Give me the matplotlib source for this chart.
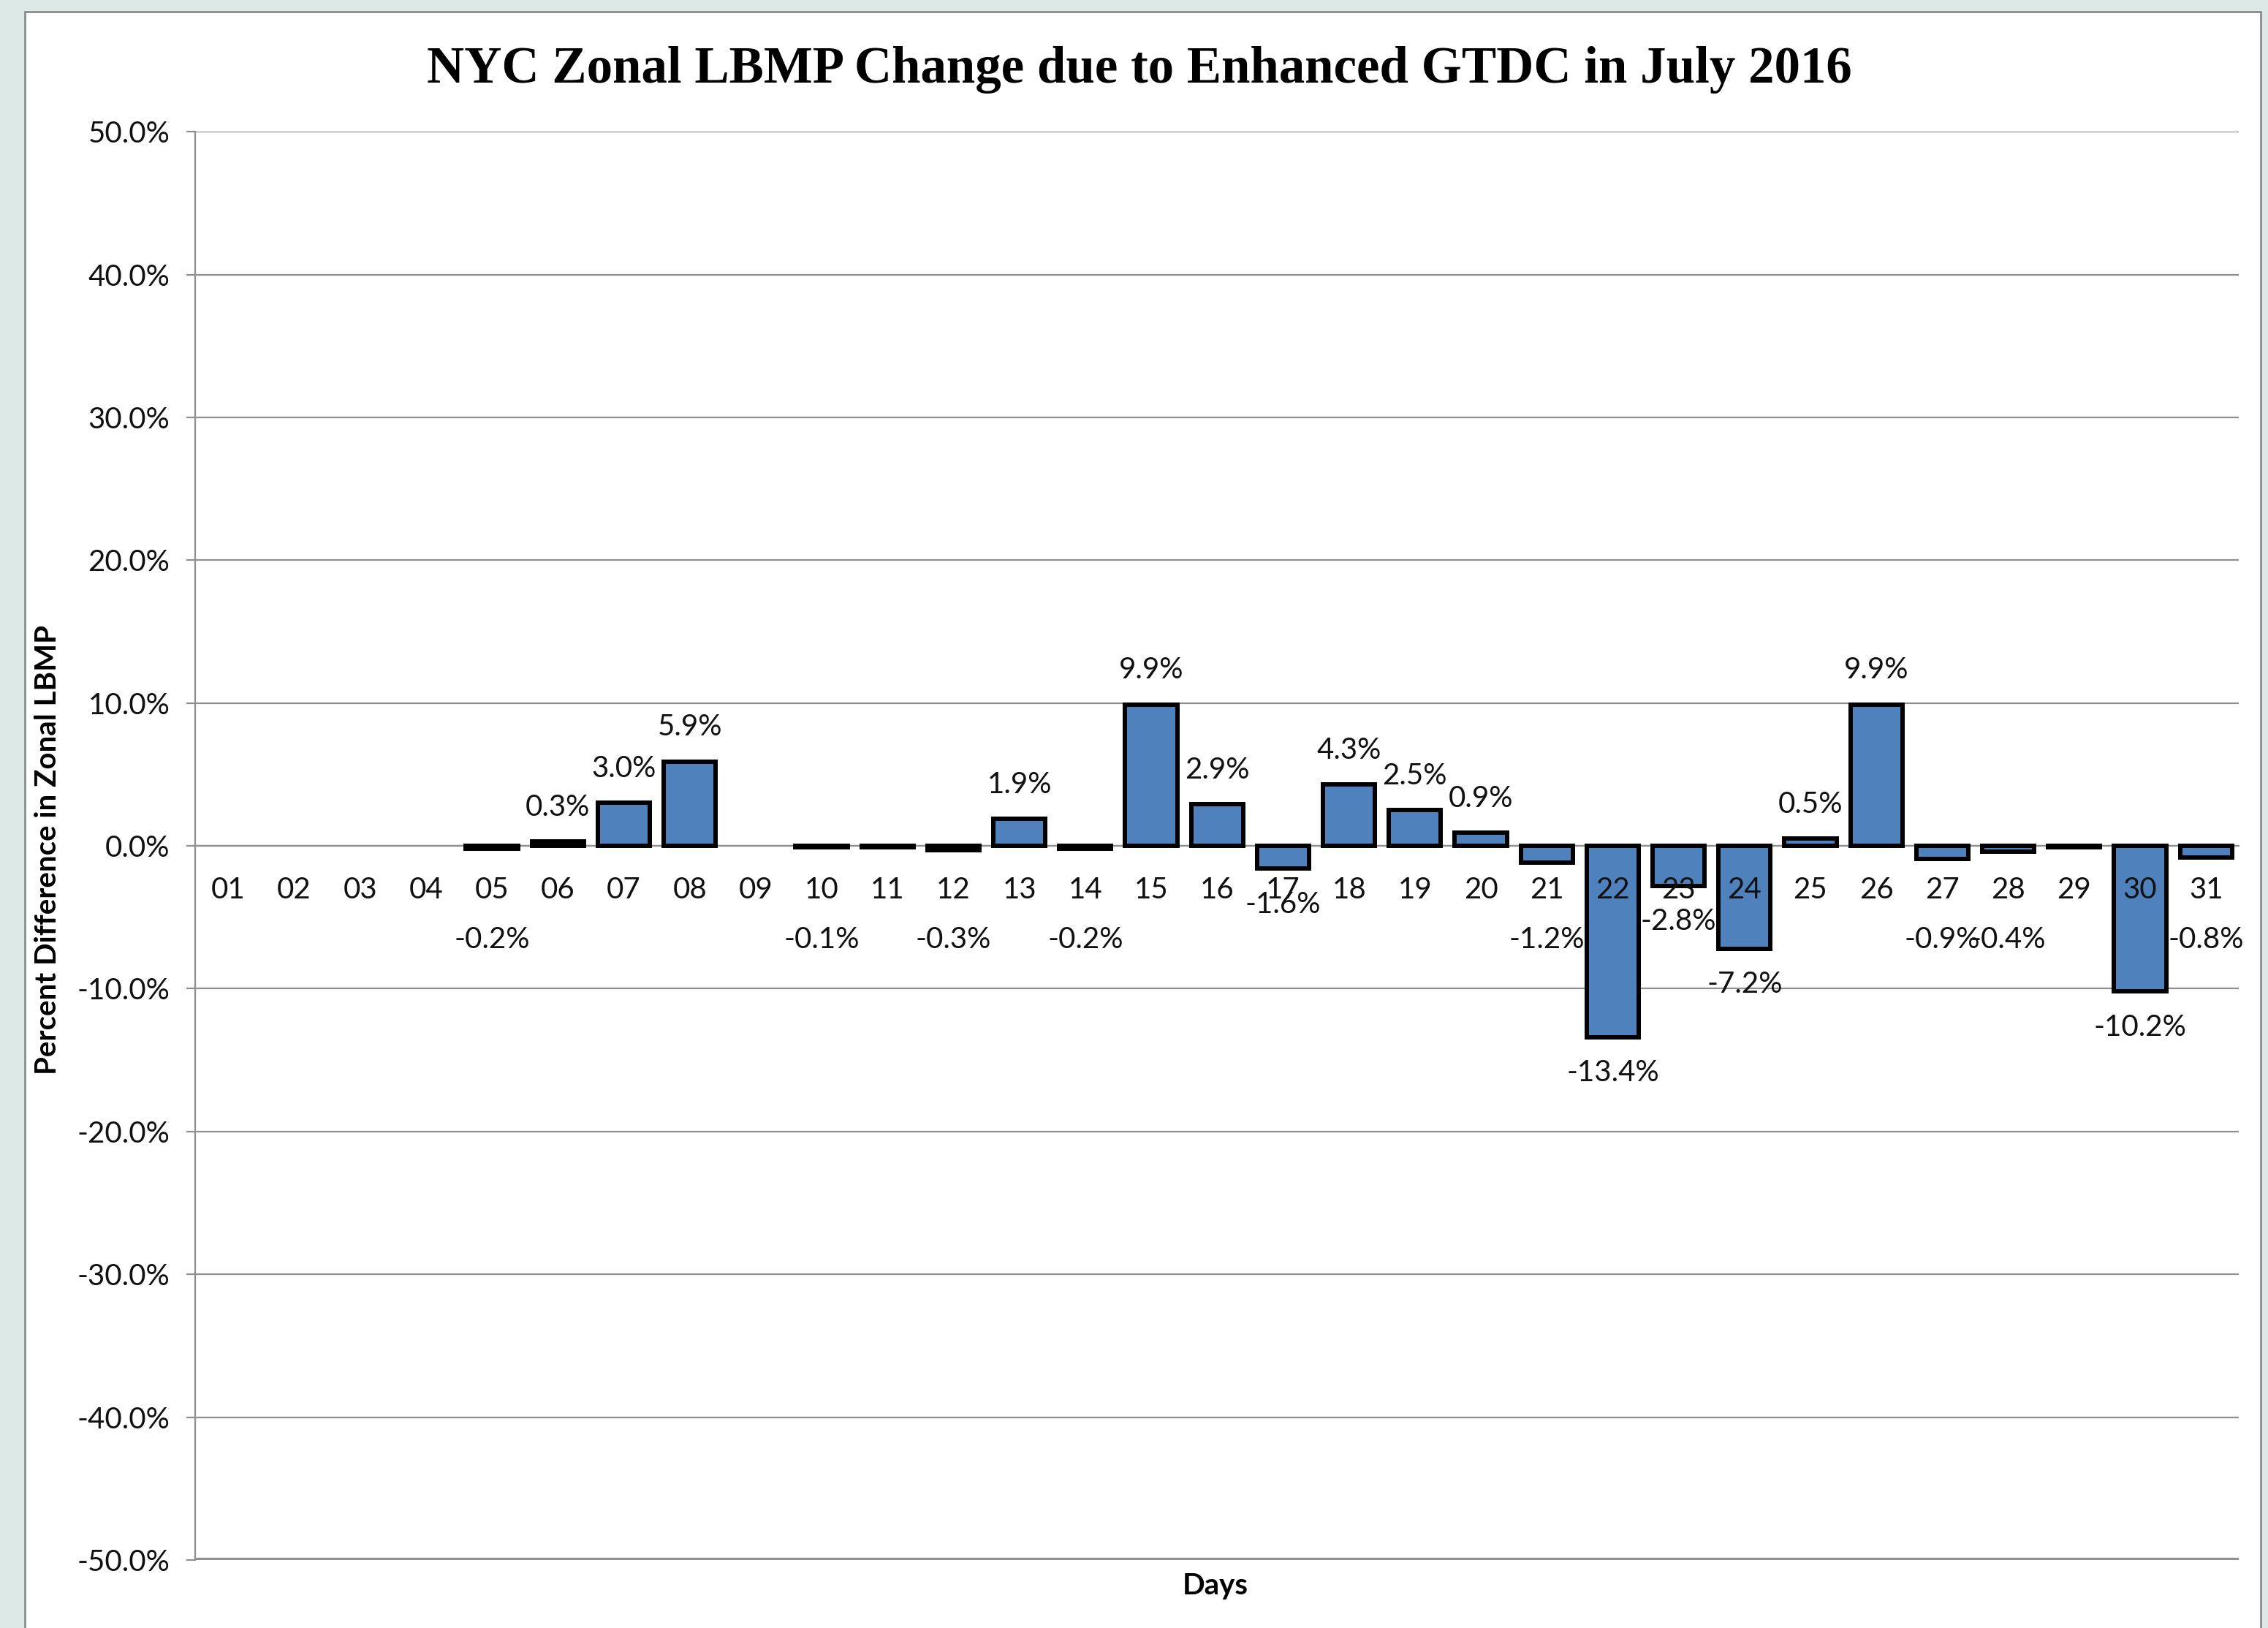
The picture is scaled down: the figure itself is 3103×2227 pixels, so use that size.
"""NYC zonal LBMP change due to enhanced GTDC, July 2016."""
import numpy as np
import matplotlib

matplotlib.use("Agg")
import matplotlib.pyplot as plt
from matplotlib.patches import Rectangle
from matplotlib.ticker import FuncFormatter, MultipleLocator

DAYS = [f"{d:02d}" for d in range(1, 32)]
# percent change per day, nan where no bar is drawn
CHANGE = [
    np.nan, np.nan, np.nan, np.nan, -0.2, 0.3, 3.0, 5.9, np.nan, -0.1,
    -0.1, -0.3, 1.9, -0.2, 9.9, 2.9, -1.6, 4.3, 2.5, 0.9,
    -1.2, -13.4, -2.8, -7.2, 0.5, 9.9, -0.9, -0.4, -0.1, -10.2,
    -0.8,
]
# days whose data label is not shown in the source
NO_LABEL = ["11", "29"]

TITLE = "NYC Zonal LBMP Change due to Enhanced GTDC in July 2016"
YLABEL = "Percent Difference in Zonal LBMP"
XLABEL = "Days"

BAR_COLOR = "#4F81BD"
GRID_COLOR = "#8f8f8f"
FONT = "Lato"

fig = plt.figure(figsize=(31.03, 22.27), dpi=100, facecolor="#dde9e6")
fig.patches.append(
    Rectangle(
        (0.0108, -0.01), 0.986, 1.003,
        transform=fig.transFigure, facecolor="white",
        edgecolor="#8c8c8c", lw=2, zorder=0,
    )
)
ax = fig.add_axes([0.0861, 0.0418, 0.9011, 0.8773])
ax.set_zorder(2)
ax.set_facecolor("white")

x = np.arange(len(DAYS))
ax.bar(x, CHANGE, width=0.79, color=BAR_COLOR, edgecolor="black",
       lw=4.3, zorder=2)

for xi, day, v in zip(x, DAYS, CHANGE):
    if np.isnan(v) or day in NO_LABEL:
        continue
    if v >= 0:
        y = v + 2.4
    elif v > -1.5:
        y = -6.6
    else:
        y = v - 2.5
    ax.text(xi, y, f"{v:.1f}%", ha="center", va="center",
            fontsize=29, family=FONT, color="#111111", zorder=4)

ax.set_xlim(-0.5, len(DAYS) - 0.5)
ax.set_ylim(-50, 50)
ax.yaxis.set_major_locator(MultipleLocator(10))
ax.yaxis.set_major_formatter(FuncFormatter(lambda v, _: f"{v:.1f}%"))
ax.set_xticks(x)
ax.set_xticklabels(DAYS)

ax.yaxis.grid(True, color=GRID_COLOR, lw=1.6)
ax.axhline(-50, color=GRID_COLOR, lw=4.5, zorder=0.6)
ax.xaxis.set_zorder(5)
ax.yaxis.set_zorder(0.5)

for side in ("top", "right"):
    ax.spines[side].set_visible(False)
ax.spines["bottom"].set_position(("data", 0))
ax.spines["bottom"].set_color(GRID_COLOR)
ax.spines["bottom"].set_linewidth(1.6)
ax.spines["bottom"].set_zorder(0.6)
ax.spines["left"].set_color(GRID_COLOR)
ax.spines["left"].set_linewidth(1.6)

ax.tick_params(axis="x", length=0, pad=30, labelsize=29)
ax.tick_params(axis="y", length=9, width=1.6, color=GRID_COLOR,
               pad=16, labelsize=29)
for lbl in ax.get_xticklabels() + ax.get_yticklabels():
    lbl.set_family(FONT)
    lbl.set_color("#111111")

fig.text(0.5025, 0.957, TITLE, ha="center", va="center", fontsize=51,
         fontweight="bold", family="Liberation Serif", zorder=3)
fig.text(0.021, 0.478, YLABEL, rotation=90, ha="center", va="center",
         fontsize=29, fontweight="bold", family=FONT, zorder=3)
fig.text(0.536, 0.026, XLABEL, ha="center", va="center", fontsize=29,
         fontweight="bold", family=FONT, zorder=3)

fig.savefig("out.png", dpi=100, facecolor=fig.get_facecolor())
